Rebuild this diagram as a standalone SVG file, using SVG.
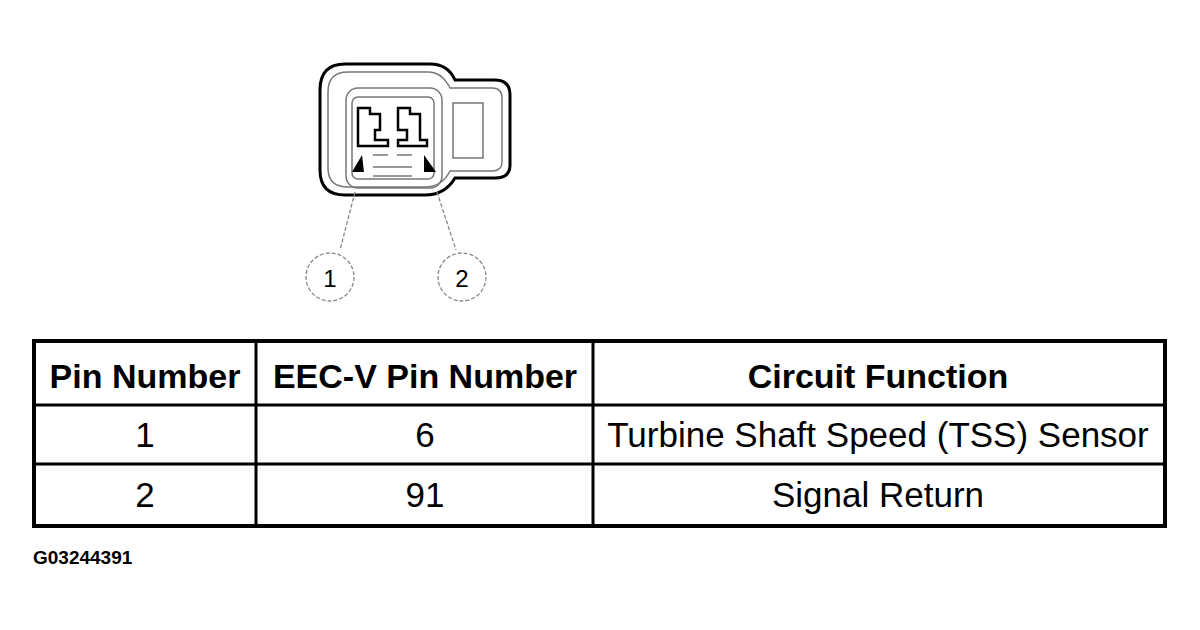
<svg xmlns="http://www.w3.org/2000/svg" width="1200" height="630" viewBox="0 0 1200 630">
<style>
.t{font-family:"Liberation Sans",Arial,sans-serif;font-size:35px;text-anchor:middle;fill:#000}
.b{font-weight:bold;font-size:34px}
.g{fill:none;stroke:#777;stroke-width:1.5}
.lead{fill:none;stroke:#888;stroke-width:1.3;stroke-dasharray:4 2}
</style>
<rect width="1200" height="630" fill="#fff"/>
<g id="connector">
<path d="M345,64 H430 Q448,64 455,80 H495 Q510,80 510,95 V165 Q510,178 495,178 H455 Q445,195 425,195 H345 Q320,195 320,170 V90 Q320,64 345,64 Z" fill="none" stroke="#000" stroke-width="3"/>
<path d="M348,72 H428 Q442,72 450,88 H492 Q502,88 502,98 V162 Q502,171 492,171 H450 Q442,187 425,187 H348 Q328,187 328,168 V92 Q328,72 348,72 Z" class="g"/>
<rect x="346" y="88" width="96" height="100" rx="12" class="g"/>
<rect x="352" y="97" width="82" height="82" rx="6" class="g"/>
<rect x="453" y="103" width="30" height="55" class="g"/>
<path d="M358,108 H370 V114 H380 V130 H375 V140 H388 V146 H358 Z" fill="none" stroke="#000" stroke-width="2.5"/>
<path d="M398,108 H410 V114 H420 V140 H427 V146 H398 V140 H407 V130 H398 Z" fill="none" stroke="#000" stroke-width="2.5"/>
<path d="M373,155 H388 M397,155 H412 M373,167 H412 M373,176 H412" class="g"/>
<polygon points="362,155 364,172 352,172" fill="#000"/>
<polygon points="424,155 436,172 424,172" fill="#000"/>
</g>
<g id="connectors">
<path class="lead" d="M355,192 L340,250"/>
<path class="lead" d="M437,192 L456,250"/>
</g>
<g id="callout1"><circle cx="330" cy="277" r="24" class="lead"/><text x="330" y="287" class="t" style="font-size:24px">1</text></g>
<g id="callout2"><circle cx="462" cy="277" r="24" class="lead"/><text x="462" y="287" class="t" style="font-size:24px">2</text></g>
<g id="table">
<rect x="34" y="341" width="1131" height="185" fill="none" stroke="#000" stroke-width="4"/>
<path d="M256,341 V526 M593,341 V526 M34,405 H1165 M34,464 H1165" stroke="#000" stroke-width="3"/>
<text class="t b" x="145" y="388">Pin Number</text>
<text class="t b" x="425" y="388">EEC-V Pin Number</text>
<text class="t b" x="878" y="388">Circuit Function</text>
<text class="t" x="145" y="447">1</text>
<text class="t" x="425" y="447">6</text>
<text class="t" x="878" y="447">Turbine Shaft Speed (TSS) Sensor</text>
<text class="t" x="145" y="507">2</text>
<text class="t" x="425" y="507">91</text>
<text class="t" x="878" y="507">Signal Return</text>
</g>
<text x="33" y="564" style="font-family:'Liberation Sans',Arial,sans-serif;font-size:19px;font-weight:bold">G03244391</text>
</svg>
